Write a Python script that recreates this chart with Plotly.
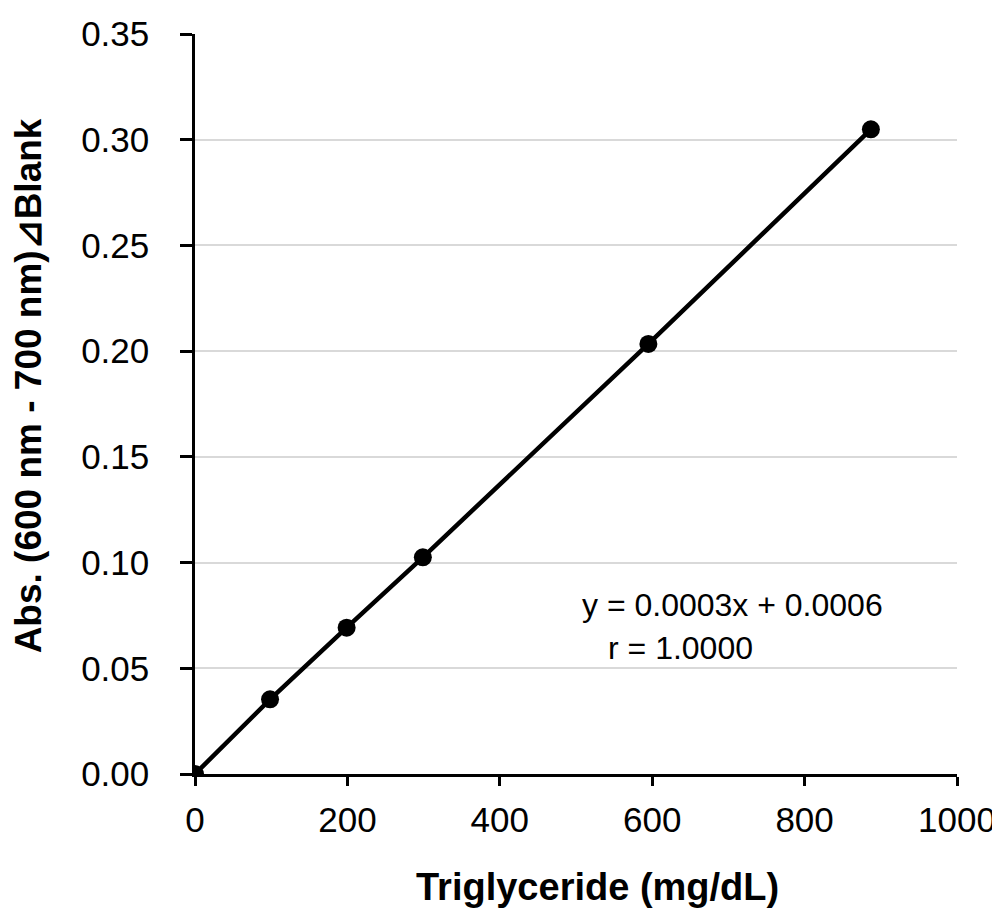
import plotly.graph_objects as go

# standard curve points
conc = [0, 98.5, 199, 299, 595, 887]
absorbance = [0.0, 0.0353, 0.0692, 0.1025, 0.2034, 0.3049]

x_ticks = [0, 200, 400, 600, 800, 1000]
y_ticks = [0.00, 0.05, 0.10, 0.15, 0.20, 0.25, 0.30, 0.35]

FONT = "Liberation Sans, Arial, sans-serif"

fig = go.Figure()

fig.add_trace(go.Scatter(
    x=conc, y=absorbance, mode="lines+markers",
    line=dict(color="black", width=4.5),
    marker=dict(color="black", size=18),
    showlegend=False,
))

fig.add_annotation(x=505, y=0.080, xref="x", yref="y", xanchor="left",
                   text="y = 0.0003x + 0.0006", showarrow=False,
                   font=dict(size=32, color="black", family=FONT))
fig.add_annotation(x=539, y=0.0596, xref="x", yref="y", xanchor="left",
                   text="r = 1.0000", showarrow=False,
                   font=dict(size=32, color="black", family=FONT))

# axis titles placed as annotations to match the reference offsets
fig.add_annotation(x=0.5276, y=-0.153, xref="paper", yref="paper",
                   xanchor="center", yanchor="middle",
                   text="<b>Triglyceride (mg/dL)</b>", showarrow=False,
                   font=dict(size=38, color="black", family=FONT))
fig.add_annotation(x=-0.219, y=0.524, xref="paper", yref="paper",
                   xanchor="center", yanchor="middle", textangle=-90,
                   text="<b>Abs. (600 nm - 700 nm)⊿Blank</b>", showarrow=False,
                   font=dict(size=37, color="black", family=FONT))

fig.update_layout(
    width=1000, height=920,
    margin=dict(l=187, r=51, t=26, b=154),
    paper_bgcolor="white", plot_bgcolor="white",
    font=dict(family=FONT, color="black"),
)

fig.update_xaxes(
    range=[0, 1000], tickvals=x_ticks, ticktext=[str(v) for v in x_ticks],
    showgrid=False, zeroline=False, automargin=False,
    showline=True, linecolor="black", linewidth=2.5,
    ticks="outside", ticklen=9, tickwidth=2.5, tickcolor="black",
    ticklabelstandoff=4, ticklabeloverflow="allow",
    tickfont=dict(size=35),
)
fig.update_yaxes(
    range=[0, 0.35], tickvals=y_ticks, ticktext=[f"{v:.2f}" for v in y_ticks],
    showgrid=True, gridcolor="#d9d9d9", gridwidth=2, zeroline=False,
    automargin=False,
    showline=True, linecolor="black", linewidth=2.5,
    ticks="outside", ticklen=12, tickwidth=2.5, tickcolor="black",
    ticklabelstandoff=24, ticklabeloverflow="allow",
    tickfont=dict(size=35),
)

fig.write_html("out.html")
